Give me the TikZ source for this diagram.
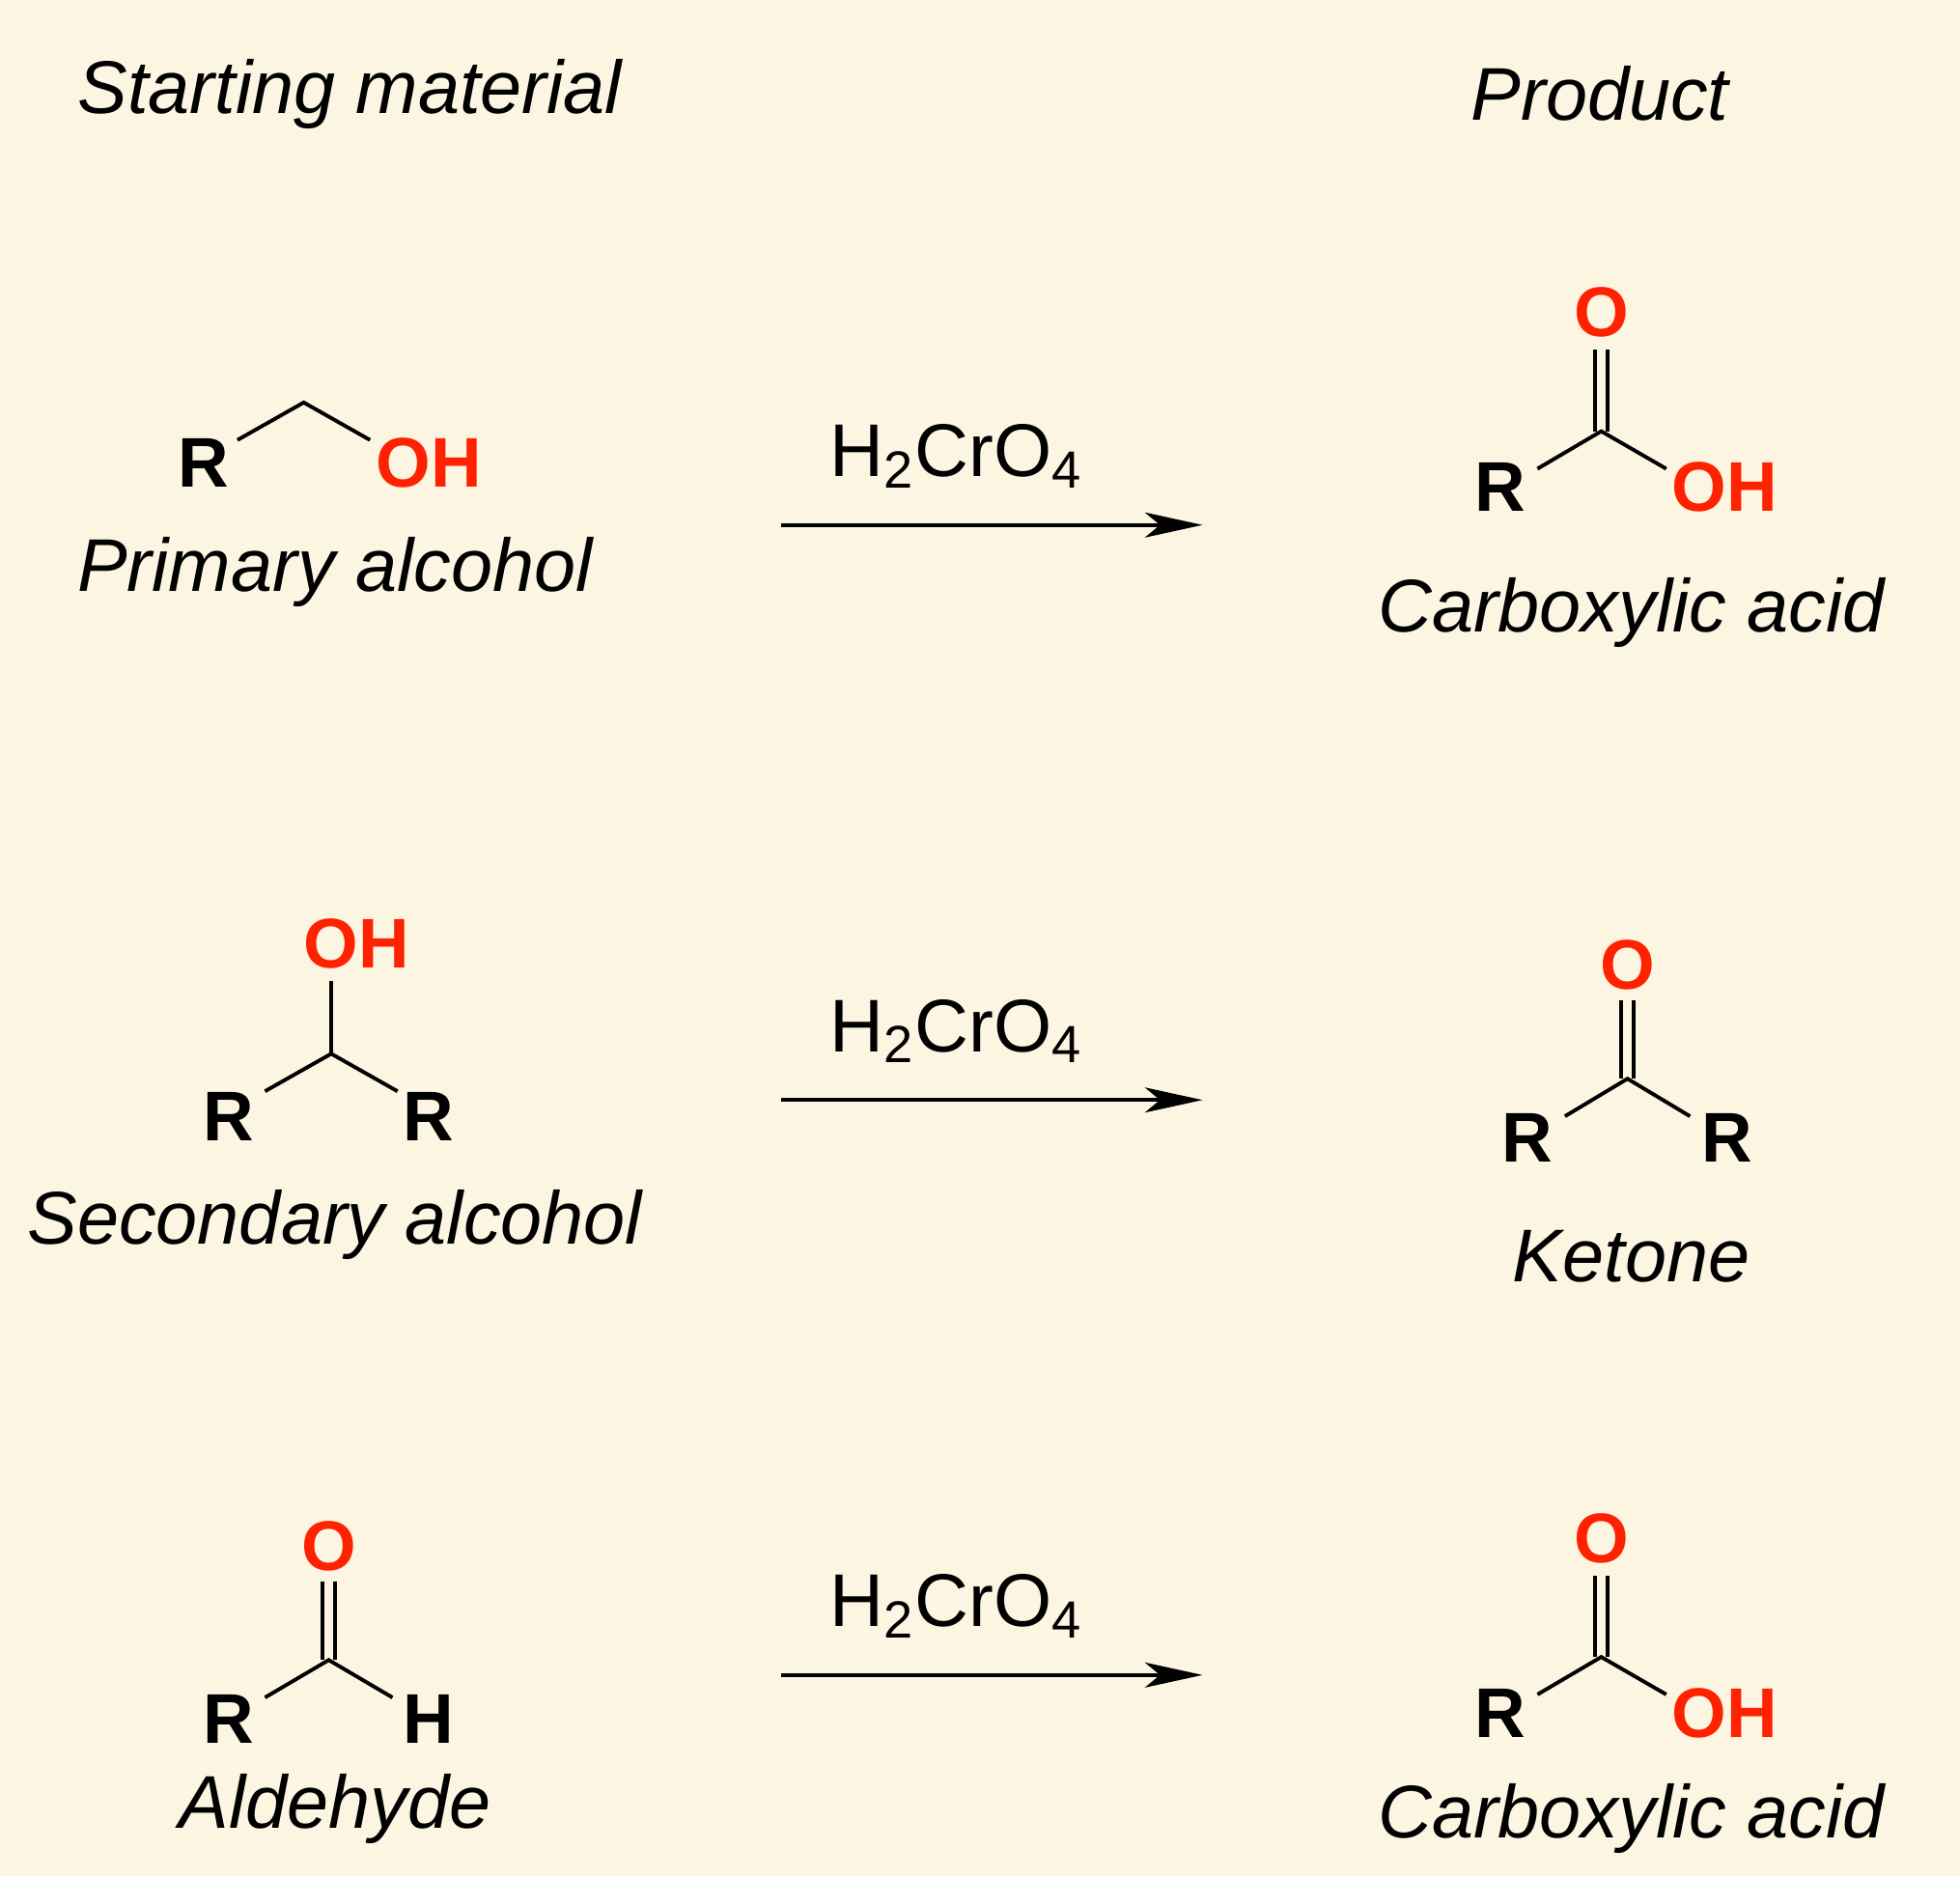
\documentclass[tikz,border=0pt]{standalone}
\usepackage{fontspec}
\setmainfont{Liberation Sans}
\usetikzlibrary{arrows.meta, positioning, calc}
\definecolor{paper}{HTML}{FCF5E1}
\definecolor{oxy}{HTML}{FF2200}
\tikzset{
  atom/.style={font=\fontsize{16}{18}\selectfont\bfseries, inner sep=0pt},
  oatom/.style={atom, text=oxy},
  cname/.style={font=\fontsize{17}{20}\selectfont\itshape, inner sep=0pt},
  reagent/.style={font=\fontsize{17}{20}\selectfont, inner sep=0pt},
  bond/.style={line width=0.85pt},
  rxn/.style={line width=0.85pt, -{Stealth[length=4.6mm, width=2mm, inset=1.2mm]}}
}
\newcommand{\acidunit}[1]{%
  % carboxylic acid, centred on the carbonyl carbon
  \node[oatom] (#1o) at (1281,-250) {O};
  \node[atom] (#1r) at (1200,-390) {R};
  \node[oatom] (#1oh) at (1380,-390) {OH};
  \coordinate (#1c) at (1281,-345);
  \draw[bond] ($(#1c)+(-5,0)$) -- ($(#1c)+(-5,65)$);
  \draw[bond] ($(#1c)+(5,0)$) -- ($(#1c)+(5,65)$);
  \draw[bond] (1230,-375) -- (#1c) -- (1333,-375);
}
\begin{document}
\begin{tikzpicture}[x=0.01cm, y=0.01cm]
  \fill[paper] (0,0) rectangle (1568,-1501);
  \useasboundingbox (0,0) rectangle (1568,-1501);

  \node[cname] (hstart) at (280,-75) {Starting material};
  \node[cname] (hprod) at (1280,-75) {Product};

  % primary alcohol
  \node[atom] (r1) at (163,-370) {R};
  \node[oatom] (oh1) at (343,-370) {OH};
  \coordinate (c1) at (243,-322);
  \draw[bond] (190,-352) -- (c1) -- (296,-352);
  \node[cname] (n1) at (268,-458) {Primary alcohol};

  % secondary alcohol
  \node[oatom] (oh2) at (285,-755) {OH};
  \node[atom] (r2a) at (183,-893) {R};
  \node[atom] (r2b) at (343,-893) {R};
  \coordinate (c2) at (265,-843);
  \draw[bond] (265,-785) -- (c2);
  \draw[bond] (212,-873) -- (c2) -- (318,-873);
  \node[cname] (n2) at (268,-980) {Secondary alcohol};

  % aldehyde
  \node[oatom] (o3) at (263,-1237) {O};
  \node[atom] (r3) at (183,-1375) {R};
  \node[atom] (h3) at (343,-1375) {H};
  \coordinate (c3) at (263,-1328);
  \draw[bond] (258,-1265) -- (258,-1328);
  \draw[bond] (268,-1265) -- (268,-1328);
  \draw[bond] (212,-1358) -- (c3) -- (314,-1358);
  \node[cname] (n3) at (268,-1447) {Aldehyde};

  % reaction arrows
  \foreach \yy in {420,880,1340}{
    \coordinate (a\yy) at (625,-\yy);
    \coordinate (b\yy) at (962,-\yy);
    \draw[rxn] (a\yy) -- (b\yy);
    \node[reagent] at (765,-\yy+55) {H\textsubscript{2}CrO\textsubscript{4}};
  }

  % products
  \acidunit{p1}
  \node[cname] (n4) at (1305,-490) {Carboxylic acid};

  \node[oatom] (o5) at (1302,-772) {O};
  \node[atom] (r5a) at (1222,-910) {R};
  \node[atom] (r5b) at (1382,-910) {R};
  \coordinate (c5) at (1302,-863);
  \draw[bond] (1297,-800) -- (1297,-863);
  \draw[bond] (1307,-800) -- (1307,-863);
  \draw[bond] (1252,-893) -- (c5) -- (1352,-893);
  \node[cname] (n5) at (1305,-1005) {Ketone};

  \begin{scope}[yshift=-9.8cm]
    \acidunit{p3}
  \end{scope}
  \node[cname] (n6) at (1305,-1455) {Carboxylic acid};
\end{tikzpicture}
\end{document}
